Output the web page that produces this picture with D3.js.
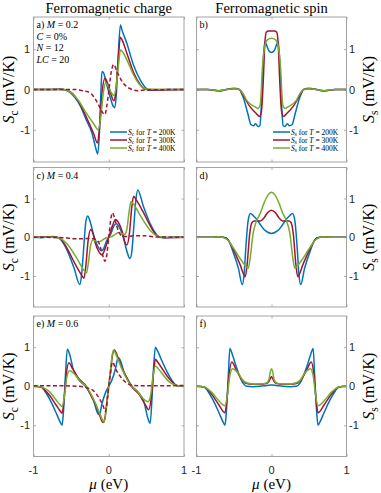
<!DOCTYPE html>
<html>
<head>
<meta charset="utf-8">
<script src="https://cdn.jsdelivr.net/npm/d3@7"></script>
<style>
  html, body { margin: 0; padding: 0; background: #fff; }
  svg { display: block; }
</style>
</head>
<body>
<svg id="chart" width="381" height="493"></svg>
<script>
// ---- data (mu in eV, S in mV/K) ----
const muTicks = [-1, 0, 1]
const sTicks = [-1, 0, 1]
const columnTitles = ['Ferromagnetic charge', 'Ferromagnetic spin']
const temperatures = [200, 300, 400]

// a) charge, M = 0.2
const scA200 = [[-1,0],[-0.8,0],[-0.65,0.01],[-0.55,-0.03],[-0.45,-0.2],[-0.38,-0.4],[-0.3,-0.75],[-0.22,-1.1],[-0.18,-1.4],[-0.146,-1.6],[-0.125,-1.1],[-0.105,-0.1],[-0.09,0.45],[-0.07,0.42],[-0.03,0.15],[0.02,-0.2],[0.06,-0.42],[0.08,-0.45],[0.1,-0.15],[0.125,0.8],[0.155,1.6],[0.18,1.45],[0.24,1.15],[0.33,0.6],[0.42,0.23],[0.49,0.04],[0.55,-0.02],[0.65,-0.01],[0.8,0],[1,0]]
const scA300 = [[-1,0],[-0.6,0],[-0.5,-0.07],[-0.4,-0.3],[-0.3,-0.68],[-0.2,-1.1],[-0.15,-1.33],[-0.125,-1.0],[-0.09,-0.1],[-0.05,0.28],[-0.02,0.18],[0.03,-0.12],[0.065,-0.28],[0.09,-0.12],[0.12,0.6],[0.155,1.3],[0.18,1.22],[0.25,0.85],[0.33,0.42],[0.42,0.12],[0.5,0],[0.6,-0.01],[1,0]]
const scA400 = [[-1,0],[-0.6,0],[-0.5,-0.08],[-0.4,-0.28],[-0.3,-0.58],[-0.2,-0.85],[-0.14,-1.0],[-0.11,-0.75],[-0.07,-0.05],[-0.04,0.17],[0,0.05],[0.04,-0.1],[0.07,-0.15],[0.1,0.1],[0.13,0.62],[0.155,0.98],[0.19,0.92],[0.25,0.7],[0.33,0.36],[0.42,0.1],[0.5,0.01],[1,0]]
const scADash = [[-1,0],[-0.45,0],[-0.35,-0.03],[-0.27,-0.06],[-0.2,-0.18],[-0.13,-0.4],[-0.09,-0.55],[-0.05,-0.62],[-0.03,-0.45],[0,-0.05],[0.03,0.4],[0.066,0.62],[0.11,0.44],[0.18,0.19],[0.24,0.07],[0.31,0],[0.38,-0.03],[0.5,-0.01],[1,0]]

// b) spin, M = 0.2
const ssB200 = [[-1,0],[-0.85,0],[-0.7,-0.04],[-0.6,0],[-0.5,0.03],[-0.43,0],[-0.38,-0.18],[-0.31,-0.64],[-0.276,-0.87],[-0.24,-0.9],[-0.21,-0.85],[-0.18,-0.92],[-0.155,-0.9],[-0.135,-0.4],[-0.11,0.7],[-0.09,1.18],[-0.065,1.1],[-0.035,0.96],[0,0.92],[0.035,0.96],[0.065,1.1],[0.09,1.18],[0.11,0.7],[0.135,-0.4],[0.155,-0.9],[0.18,-0.92],[0.21,-0.85],[0.24,-0.9],[0.276,-0.87],[0.31,-0.64],[0.38,-0.18],[0.43,0],[0.5,0.03],[0.6,0],[0.7,-0.04],[0.85,0],[1,0]]
const ssB300 = [[-1,0],[-0.85,0],[-0.7,-0.03],[-0.6,0],[-0.5,0.02],[-0.43,0],[-0.38,-0.14],[-0.29,-0.42],[-0.2,-0.6],[-0.16,-0.67],[-0.135,-0.55],[-0.11,0.2],[-0.09,1.1],[-0.07,1.42],[-0.04,1.45],[0,1.45],[0.04,1.45],[0.07,1.42],[0.09,1.1],[0.11,0.2],[0.135,-0.55],[0.16,-0.67],[0.2,-0.6],[0.29,-0.42],[0.38,-0.14],[0.43,0],[0.5,0.02],[0.6,0],[0.7,-0.03],[0.85,0],[1,0]]
const ssB400 = [[-1,0],[-0.85,0],[-0.7,-0.03],[-0.6,0],[-0.5,0.02],[-0.43,0],[-0.38,-0.1],[-0.33,-0.27],[-0.22,-0.43],[-0.18,-0.47],[-0.15,-0.38],[-0.12,0.57],[-0.09,1.07],[-0.055,1.23],[0,1.27],[0.055,1.23],[0.09,1.07],[0.12,0.57],[0.15,-0.38],[0.18,-0.47],[0.22,-0.43],[0.33,-0.27],[0.38,-0.1],[0.43,0],[0.5,0.02],[0.6,0],[0.7,-0.03],[0.85,0],[1,0]]

// c) charge, M = 0.4
const scC200 = [[-1,0],[-0.9,-0.01],[-0.82,0],[-0.75,0.02],[-0.68,0],[-0.64,-0.06],[-0.55,-0.35],[-0.46,-0.8],[-0.385,-1.22],[-0.36,-0.95],[-0.33,-0.2],[-0.305,0.4],[-0.28,0.55],[-0.25,0.42],[-0.2,0.05],[-0.15,-0.22],[-0.1,-0.35],[-0.07,-0.3],[-0.03,-0.1],[0,0],[0.03,0.1],[0.07,0.3],[0.1,0.35],[0.15,0.22],[0.2,-0.05],[0.25,-0.42],[0.28,-0.55],[0.305,-0.4],[0.33,0.2],[0.36,0.95],[0.385,1.22],[0.46,0.8],[0.55,0.35],[0.64,0.06],[0.68,0],[0.75,-0.02],[0.82,0],[0.9,0.01],[1,0]]
const scC300 = [[-1,0],[-0.8,0.01],[-0.7,0],[-0.64,-0.04],[-0.55,-0.3],[-0.45,-0.68],[-0.37,-0.95],[-0.33,-1.06],[-0.305,-0.75],[-0.275,-0.1],[-0.24,0.2],[-0.21,0.1],[-0.18,-0.14],[-0.13,-0.38],[-0.09,-0.46],[-0.05,-0.3],[0,0],[0.05,0.3],[0.09,0.46],[0.13,0.38],[0.18,0.14],[0.21,-0.1],[0.24,-0.2],[0.275,0.1],[0.305,0.75],[0.33,1.06],[0.37,0.95],[0.45,0.68],[0.55,0.3],[0.64,0.04],[0.7,0],[0.8,-0.01],[1,0]]
const scC400 = [[-1,0],[-0.75,0],[-0.66,-0.02],[-0.55,-0.18],[-0.42,-0.56],[-0.33,-0.85],[-0.296,-0.92],[-0.27,-0.65],[-0.24,-0.2],[-0.21,-0.07],[-0.17,-0.1],[-0.13,-0.12],[-0.09,-0.08],[-0.04,-0.02],[0,0],[0.04,0.02],[0.09,0.08],[0.13,0.12],[0.17,0.1],[0.21,0.07],[0.24,0.2],[0.27,0.65],[0.296,0.92],[0.33,0.85],[0.42,0.56],[0.55,0.18],[0.66,0.02],[0.75,0],[1,0]]
const scCDash = [[-1,0],[-0.6,-0.01],[-0.45,-0.04],[-0.35,-0.04],[-0.25,-0.03],[-0.17,-0.06],[-0.13,-0.15],[-0.09,-0.4],[-0.05,-0.62],[-0.03,-0.5],[0,0],[0.03,0.5],[0.05,0.63],[0.09,0.4],[0.13,0.15],[0.18,0.03],[0.25,0.02],[0.35,0.04],[0.47,0.04],[0.6,0.01],[1,0]]

// d) spin, M = 0.4
const ssD200 = [[-1,0],[-0.8,0],[-0.7,0.01],[-0.6,-0.02],[-0.51,-0.39],[-0.44,-0.81],[-0.39,-1.22],[-0.365,-0.95],[-0.34,-0.2],[-0.31,0.45],[-0.28,0.61],[-0.24,0.55],[-0.2,0.47],[-0.15,0.33],[-0.1,0.2],[-0.05,0.13],[0,0.1],[0.05,0.13],[0.1,0.2],[0.15,0.33],[0.2,0.47],[0.24,0.55],[0.28,0.61],[0.31,0.45],[0.34,-0.2],[0.365,-0.95],[0.39,-1.22],[0.44,-0.81],[0.51,-0.39],[0.6,-0.02],[0.7,0.01],[0.8,0],[1,0]]
const ssD300 = [[-1,0],[-0.8,0],[-0.7,0.01],[-0.6,-0.03],[-0.5,-0.35],[-0.42,-0.7],[-0.35,-1.02],[-0.325,-0.7],[-0.29,0.1],[-0.26,0.38],[-0.23,0.42],[-0.15,0.42],[-0.1,0.5],[-0.05,0.64],[0,0.7],[0.05,0.64],[0.1,0.5],[0.15,0.42],[0.23,0.42],[0.26,0.38],[0.29,0.1],[0.325,-0.7],[0.35,-1.02],[0.42,-0.7],[0.5,-0.35],[0.6,-0.03],[0.7,0.01],[0.8,0],[1,0]]
const ssD400 = [[-1,0],[-0.8,0],[-0.7,0.01],[-0.6,-0.05],[-0.5,-0.3],[-0.4,-0.6],[-0.31,-0.8],[-0.285,-0.55],[-0.245,0.1],[-0.2,0.42],[-0.15,0.62],[-0.1,0.88],[-0.05,1.08],[0,1.16],[0.05,1.08],[0.1,0.88],[0.15,0.62],[0.2,0.42],[0.245,0.1],[0.285,-0.55],[0.31,-0.8],[0.4,-0.6],[0.5,-0.3],[0.6,-0.05],[0.7,0.01],[0.8,0],[1,0]]

// e) charge, M = 0.6
const scE200 = [[-1,0],[-0.9,-0.02],[-0.85,-0.12],[-0.78,-0.35],[-0.7,-0.68],[-0.65,-0.9],[-0.62,-1.0],[-0.6,-0.6],[-0.575,0.3],[-0.55,0.95],[-0.52,0.82],[-0.47,0.42],[-0.38,0.13],[-0.31,0],[-0.25,-0.18],[-0.2,-0.38],[-0.15,-0.68],[-0.125,-0.73],[-0.09,-0.45],[-0.04,-0.15],[0,0],[0.04,0.15],[0.09,0.45],[0.125,0.73],[0.15,0.68],[0.2,0.38],[0.25,0.18],[0.31,0],[0.38,-0.13],[0.47,-0.42],[0.52,-0.82],[0.55,-0.95],[0.575,-0.3],[0.6,0.6],[0.62,1.0],[0.65,0.9],[0.7,0.68],[0.78,0.35],[0.85,0.12],[0.9,0.02],[1,0]]
const scE300 = [[-1,0],[-0.9,-0.02],[-0.85,-0.1],[-0.78,-0.25],[-0.7,-0.48],[-0.65,-0.62],[-0.62,-0.69],[-0.595,-0.35],[-0.565,0.3],[-0.53,0.6],[-0.48,0.45],[-0.4,0.2],[-0.3,0],[-0.25,-0.18],[-0.18,-0.45],[-0.12,-0.75],[-0.075,-0.93],[-0.05,-0.8],[-0.025,-0.4],[0,0],[0.025,0.4],[0.05,0.8],[0.075,0.93],[0.12,0.75],[0.18,0.45],[0.25,0.18],[0.3,0],[0.4,-0.2],[0.48,-0.45],[0.53,-0.6],[0.565,-0.3],[0.595,0.35],[0.62,0.69],[0.65,0.62],[0.7,0.48],[0.78,0.25],[0.85,0.1],[0.9,0.02],[1,0]]
const scE400 = [[-1,0],[-0.9,-0.02],[-0.8,-0.12],[-0.7,-0.35],[-0.65,-0.47],[-0.62,-0.52],[-0.585,-0.2],[-0.555,0.25],[-0.52,0.4],[-0.45,0.3],[-0.38,0.13],[-0.3,0],[-0.25,-0.15],[-0.18,-0.42],[-0.12,-0.7],[-0.06,-0.92],[-0.03,-0.55],[0,0],[0.03,0.55],[0.06,0.92],[0.12,0.7],[0.18,0.42],[0.25,0.15],[0.3,0],[0.38,-0.13],[0.45,-0.3],[0.52,-0.4],[0.555,-0.25],[0.585,0.2],[0.62,0.52],[0.65,0.47],[0.7,0.35],[0.8,0.12],[0.9,0.02],[1,0]]
const scEDash = [[-1,0.01],[-0.6,0.01],[-0.4,0],[-0.29,-0.04],[-0.2,-0.12],[-0.13,-0.3],[-0.075,-0.5],[-0.045,-0.65],[-0.02,-0.35],[0,0],[0.02,0.3],[0.05,0.62],[0.09,0.45],[0.155,0.25],[0.24,0.08],[0.31,0.02],[0.5,0.01],[1,0.02]]

// f) spin, M = 0.6
const ssF200 = [[-1,0],[-0.9,-0.02],[-0.85,-0.12],[-0.78,-0.35],[-0.7,-0.68],[-0.65,-0.9],[-0.62,-1.0],[-0.6,-0.6],[-0.575,0.3],[-0.555,0.97],[-0.52,0.8],[-0.47,0.5],[-0.38,0.08],[-0.33,0],[-0.25,-0.01],[-0.15,0],[-0.06,0.02],[0,0.03],[0.06,0.02],[0.15,0],[0.25,-0.01],[0.33,0],[0.38,0.08],[0.47,0.5],[0.52,0.8],[0.555,0.97],[0.575,0.3],[0.6,-0.6],[0.62,-1.0],[0.65,-0.9],[0.7,-0.68],[0.78,-0.35],[0.85,-0.12],[0.9,-0.02],[1,0]]
const ssF300 = [[-1,0],[-0.9,-0.02],[-0.8,-0.2],[-0.7,-0.48],[-0.62,-0.68],[-0.595,-0.35],[-0.565,0.3],[-0.53,0.62],[-0.47,0.42],[-0.4,0.18],[-0.35,0.08],[-0.25,0.05],[-0.15,0.05],[-0.07,0.07],[-0.035,0.12],[-0.015,0.2],[0,0.25],[0.015,0.2],[0.035,0.12],[0.07,0.07],[0.15,0.05],[0.25,0.05],[0.35,0.08],[0.4,0.18],[0.47,0.42],[0.53,0.62],[0.565,0.3],[0.595,-0.35],[0.62,-0.68],[0.7,-0.48],[0.8,-0.2],[0.9,-0.02],[1,0]]
const ssF400 = [[-1,0],[-0.9,-0.02],[-0.8,-0.15],[-0.7,-0.38],[-0.62,-0.5],[-0.585,-0.18],[-0.555,0.28],[-0.52,0.45],[-0.45,0.35],[-0.38,0.15],[-0.33,0.09],[-0.25,0.06],[-0.15,0.06],[-0.07,0.08],[-0.035,0.17],[-0.015,0.38],[0,0.45],[0.015,0.38],[0.035,0.17],[0.07,0.08],[0.15,0.06],[0.25,0.06],[0.33,0.09],[0.38,0.15],[0.45,0.35],[0.52,0.45],[0.555,0.28],[0.585,-0.18],[0.62,-0.5],[0.7,-0.38],[0.8,-0.15],[0.9,-0.02],[1,0]]

// ---- layout ----
const colors = ['#0072BD', '#A2142F', '#77AC30']
const serif = '"Liberation Serif", "Times New Roman", serif'
const sans = '"Liberation Sans", Arial, sans-serif'
const textColor = '#262626'
const cols = [[33.5, 184], [196.5, 346.5]]
const rows = [[17, 162], [167.5, 307], [316, 456.5]]

const panels = [
    { col: 0, row: 0, series: [scA200, scA300, scA400], dash: scADash, kind: 'c',
      info: [[['a) '], ['M', 'i'], [' = 0.2']], [['C', 'i'], [' = 0%']], [['N', 'i'], [' = 12']], [['LC', 'i'], [' = 20']]] },
    { col: 1, row: 0, series: [ssB200, ssB300, ssB400], kind: 's', info: [[['b)']]] },
    { col: 0, row: 1, series: [scC200, scC300, scC400], dash: scCDash, kind: 'c',
      info: [[['c) '], ['M', 'i'], [' = 0.4']]] },
    { col: 1, row: 1, series: [ssD200, ssD300, ssD400], kind: 's', info: [[['d)']]] },
    { col: 0, row: 2, series: [scE200, scE300, scE400], dash: scEDash, kind: 'c',
      info: [[['e) '], ['M', 'i'], [' = 0.6']]] },
    { col: 1, row: 2, series: [ssF200, ssF300, ssF400], kind: 's', info: [[['f)']]] },
]

const svg = d3.select('#chart')

// writes a text made of parts: [string, 'i' italic | 'sub' subscript]
const appendRich = (sel, parts, size) => {
    let shifted = 0
    parts.forEach(([t, style]) => {
        const ts = sel.append('tspan').text(t)
        if (style === 'i') ts.attr('font-style', 'italic')
        if (style === 'sub') {
            ts.attr('font-size', size * 0.72).attr('dy', size * 0.22)
            shifted = size * 0.22
        } else if (shifted) {
            ts.attr('dy', -shifted)
            shifted = 0
        }
    })
}

panels.forEach((p, idx) => {
    const [x0, x1] = cols[p.col]
    const [y0, y1] = rows[p.row]
    const x = d3.scaleLinear().domain([-1, 1]).range([x0, x1])
    const y = d3.scaleLinear().domain([-1.8, 1.8]).range([y1, y0])
    const g = svg.append('g')

    const clipId = 'clip' + idx
    g.append('clipPath').attr('id', clipId)
        .append('rect').attr('x', x0).attr('y', y0).attr('width', x1 - x0).attr('height', y1 - y0)

    // ticks inside, on all four sides
    const tl = 2.5
    const axisStyle = a => a.select('.domain').remove()
    g.append('g').attr('transform', `translate(0,${y1})`)
        .call(d3.axisTop(x).tickValues(muTicks).tickSize(tl).tickFormat(''))
        .call(axisStyle)
    g.append('g').attr('transform', `translate(0,${y0})`)
        .call(d3.axisBottom(x).tickValues(muTicks).tickSize(tl).tickFormat(''))
        .call(axisStyle)
    g.append('g').attr('transform', `translate(${x0},0)`)
        .call(d3.axisRight(y).tickValues(sTicks).tickSize(tl).tickFormat(''))
        .call(axisStyle)
    g.append('g').attr('transform', `translate(${x1},0)`)
        .call(d3.axisLeft(y).tickValues(sTicks).tickSize(tl).tickFormat(''))
        .call(axisStyle)
    g.selectAll('.tick line').attr('stroke', '#9a9a9a').attr('stroke-width', 0.8)

    // y tick labels
    const yl = g.append('g')
    sTicks.forEach(v => {
        yl.append('text')
            .attr('x', p.col === 0 ? x0 - 3.5 : x1 + 2.5)
            .attr('y', y(v) + 4)
            .attr('text-anchor', p.col === 0 ? 'end' : 'start')
            .attr('font-family', sans).attr('font-size', 11).attr('fill', textColor)
            .text(v < 0 ? '-' + Math.abs(v) : v)
    })

    // x tick labels on the bottom row
    if (p.row === 2) {
        muTicks.forEach(v => {
            g.append('text')
                .attr('x', x(v)).attr('y', y1 + 17)
                .attr('text-anchor', 'middle')
                .attr('font-family', sans).attr('font-size', 11).attr('fill', textColor)
                .text(v < 0 ? '-' + Math.abs(v) : v)
        })
        const xt = g.append('text')
            .attr('x', (x0 + x1) / 2).attr('y', y1 + 32)
            .attr('text-anchor', 'middle')
            .attr('font-family', serif).attr('font-size', 15).attr('fill', '#000')
        appendRich(xt, [['μ', 'i'], [' (eV)']], 15)
    }

    // y axis label
    const lx = p.col === 0 ? 9 : 369
    const yt = g.append('text')
        .attr('transform', `translate(${lx + 5},${(y0 + y1) / 2}) rotate(-90)`)
        .attr('text-anchor', 'middle')
        .attr('font-family', serif).attr('font-size', 16).attr('fill', '#000')
    appendRich(yt, [['S', 'i'], [p.kind, 'sub'], ['  (mV/K)']], 16)

    // curves
    const line = d3.line().x(d => x(d[0])).y(d => y(d[1])).curve(d3.curveMonotoneX)
    const plot = g.append('g').attr('clip-path', `url(#${clipId})`)
    p.series.forEach((s, i) => {
        plot.append('path').datum(s)
            .attr('d', line)
            .attr('fill', 'none')
            .attr('stroke', colors[i])
            .attr('stroke-width', 1.5)
            .attr('stroke-linejoin', 'round')
    })
    if (p.dash) {
        plot.append('path').datum(p.dash)
            .attr('d', line)
            .attr('fill', 'none')
            .attr('stroke', colors[1])
            .attr('stroke-width', 1.5)
            .attr('stroke-dasharray', '4,2.5')
    }

    // box
    g.append('rect')
        .attr('x', x0).attr('y', y0).attr('width', x1 - x0).attr('height', y1 - y0)
        .attr('fill', 'none').attr('stroke', '#9a9a9a').attr('stroke-width', 0.9)

    // panel text
    p.info.forEach((parts, k) => {
        const t = g.append('text')
            .attr('x', x0 + 3).attr('y', y0 + 11 + k * 11.7)
            .attr('font-family', serif).attr('font-size', 10).attr('fill', '#000')
        appendRich(t, parts, 10)
    })

    // legend for top row
    if (p.row === 0) {
        const lx0 = p.col === 0 ? 110 : 273
        temperatures.forEach((T, i) => {
            const ly = 132 + i * 8
            g.append('line')
                .attr('x1', lx0).attr('x2', lx0 + 17)
                .attr('y1', ly).attr('y2', ly)
                .attr('stroke', colors[i]).attr('stroke-width', 1.5)
            const t = g.append('text')
                .attr('x', lx0 + 18).attr('y', ly + 2.5)
                .attr('font-family', serif).attr('font-size', 7.5).attr('fill', '#000')
            appendRich(t, [['S', 'i'], [p.kind, 'sub'], [' for '], ['T', 'i'], [` = ${T}K`]], 7.5)
        })
    }
})

// column titles
columnTitles.forEach((title, i) => {
    svg.append('text')
        .attr('x', (cols[i][0] + cols[i][1]) / 2).attr('y', 12.5)
        .attr('text-anchor', 'middle')
        .attr('font-family', serif).attr('font-size', 14.5).attr('fill', '#000')
        .text(title)
})
</script>
</body>
</html>
